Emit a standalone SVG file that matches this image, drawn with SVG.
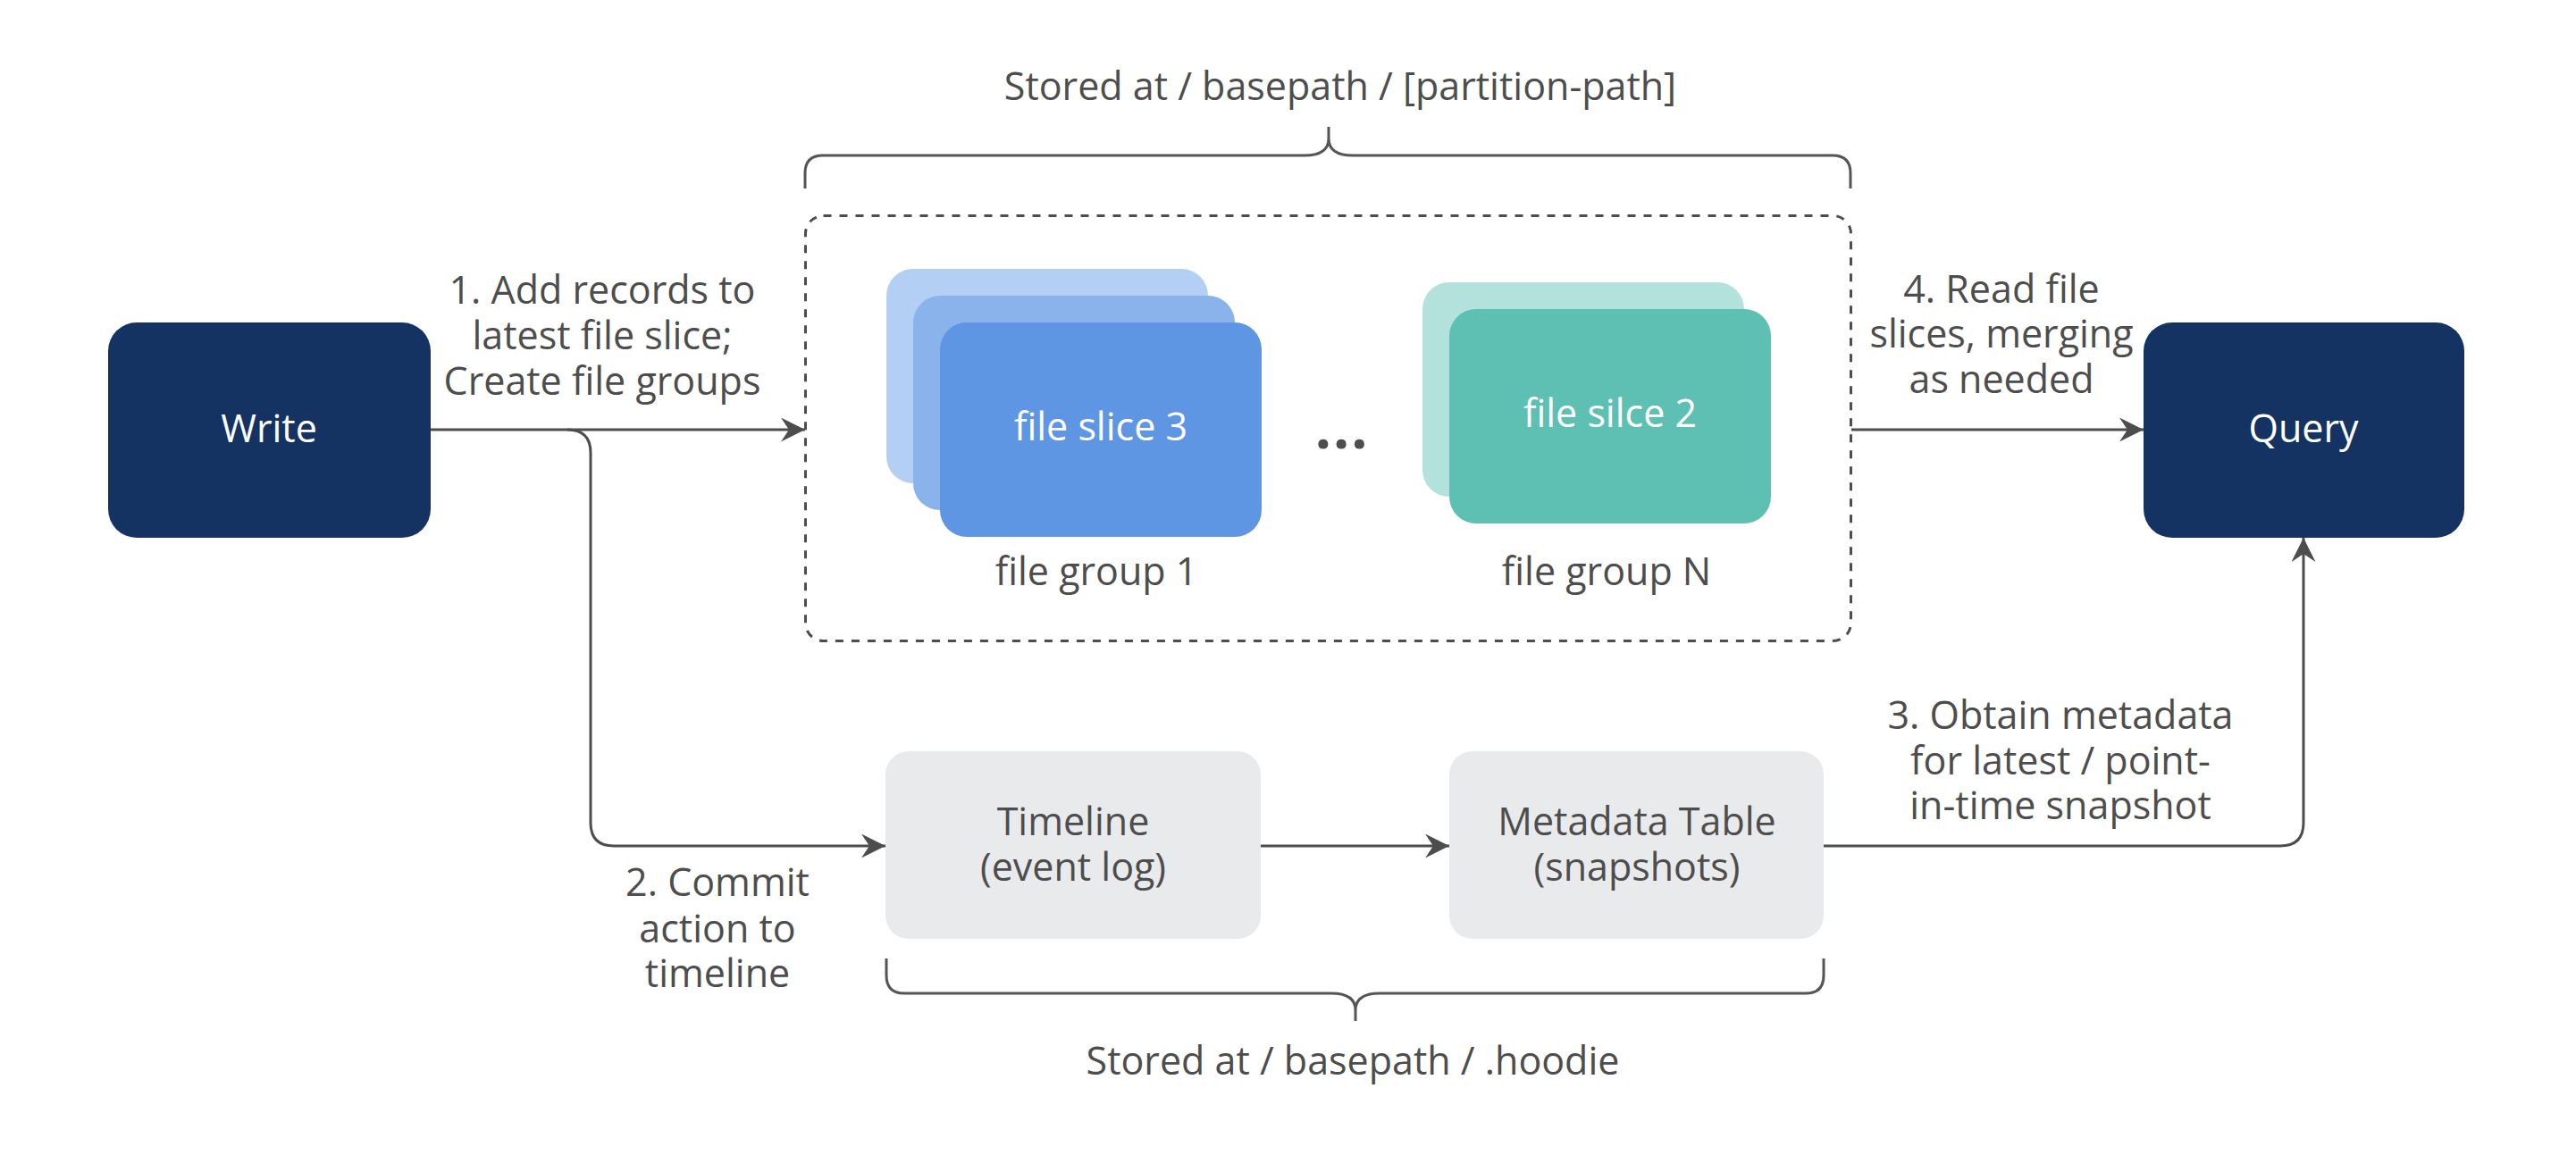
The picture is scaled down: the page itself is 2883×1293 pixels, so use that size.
<svg xmlns="http://www.w3.org/2000/svg" width="2883" height="1293" viewBox="0 0 2883 1293">
<defs>
<marker id="arr" markerUnits="userSpaceOnUse" markerWidth="30" markerHeight="30" refX="27" refY="13.5" orient="auto">
<path d="M0,0 L27,13.5 L0,27 L9,13.5 Z" fill="#4d4d4d"/>
</marker>
</defs>
<style>
text{font-family:"Open Sans","Noto Sans",sans-serif;font-size:43px;text-anchor:middle}
.lbl{fill:#4d4d4d}
.wt{fill:#ffffff}
.navy{fill:#143363}
.gray{fill:#e9eaec}
.conn{fill:none;stroke:#4d4d4d;stroke-width:3}
.brace{fill:none;stroke:#555555;stroke-width:3}
</style>
<rect width="2883" height="1293" fill="#ffffff"/>
<g id="braces">
<path class="brace" d="M901 211 V194 Q901 174 921 174 H1460 C1480 174 1487 166 1487 155 V142 M1487 155 C1487 166 1494 174 1514 174 H2051 Q2071 174 2071 194 V211"/>
<text class="lbl" x="1500" y="112">Stored at / basepath / [partition-path]</text>
<path class="brace" d="M992 1073 V1092 Q992 1112 1012 1112 H1490 C1510 1112 1517 1120 1517 1131 V1143 M1517 1131 C1517 1120 1524 1112 1544 1112 H2021 Q2041 1112 2041 1092 V1073"/>
<text class="lbl" x="1514" y="1203">Stored at / basepath / .hoodie</text>
</g>
<g id="partition">
<rect x="901.5" y="241.5" width="1170" height="476" rx="20" fill="none" stroke="#4d4d4d" stroke-width="3" stroke-dasharray="9 9"/>
</g>
<g id="filegroup1">
<rect x="992" y="301" width="360" height="240" rx="30" fill="#b3cff3"/>
<rect x="1022" y="331" width="360" height="240" rx="30" fill="#8ab3ec"/>
<rect x="1052" y="361" width="360" height="240" rx="30" fill="#5e96e3"/>
<text class="wt" x="1232" y="493">file slice 3</text>
<text class="lbl" x="1227" y="655">file group 1</text>
</g>
<g id="ellipsis">
<text class="lbl" x="1502" y="502" style="font-size:64px;font-weight:bold;letter-spacing:2px">...</text>
</g>
<g id="filegroupN">
<rect x="1592" y="316" width="360" height="240" rx="30" fill="#b3e1db"/>
<rect x="1622" y="346" width="360" height="240" rx="30" fill="#5ebfb3"/>
<text class="wt" x="1802" y="478">file silce 2</text>
<text class="lbl" x="1798" y="655">file group N</text>
</g>
<g id="write">
<rect class="navy" x="121" y="361" width="361" height="241" rx="32"/>
<text class="wt" x="301" y="495">Write</text>
</g>
<g id="query">
<rect class="navy" x="2399" y="361" width="359" height="241" rx="32"/>
<text class="wt" x="2578" y="495">Query</text>
</g>
<g id="timeline">
<rect class="gray" x="991" y="841" width="420" height="210" rx="26"/>
<text class="lbl"><tspan x="1201" y="935">Timeline</tspan><tspan x="1201" y="986">(event log)</tspan></text>
</g>
<g id="metadata">
<rect class="gray" x="1622" y="841" width="419" height="210" rx="26"/>
<text class="lbl"><tspan x="1832" y="935">Metadata Table</tspan><tspan x="1832" y="986">(snapshots)</tspan></text>
</g>
<g id="connectors">
<path class="conn" d="M482 481 H901" marker-end="url(#arr)"/>
<path class="conn" d="M635 481 Q661 481 661 507 V921 Q661 947 687 947 H991" marker-end="url(#arr)"/>
<path class="conn" d="M1411 947 H1622" marker-end="url(#arr)"/>
<path class="conn" d="M2041 947 H2552 Q2578 947 2578 921 V602" marker-end="url(#arr)"/>
<path class="conn" d="M2072 481 H2399" marker-end="url(#arr)"/>
<text class="lbl"><tspan x="674" y="340">1. Add records to</tspan><tspan x="674" y="391">latest file slice;</tspan><tspan x="674" y="442">Create file groups</tspan></text>
<text class="lbl"><tspan x="803" y="1003">2. Commit</tspan><tspan x="803" y="1055">action to</tspan><tspan x="803" y="1105">timeline</tspan></text>
<text class="lbl"><tspan x="2306" y="816">3. Obtain metadata</tspan><tspan x="2306" y="867">for latest / point-</tspan><tspan x="2306" y="917">in-time snapshot</tspan></text>
<text class="lbl"><tspan x="2240" y="339">4. Read file</tspan><tspan x="2240" y="389">slices, merging</tspan><tspan x="2240" y="440">as needed</tspan></text>
</g>
</svg>
